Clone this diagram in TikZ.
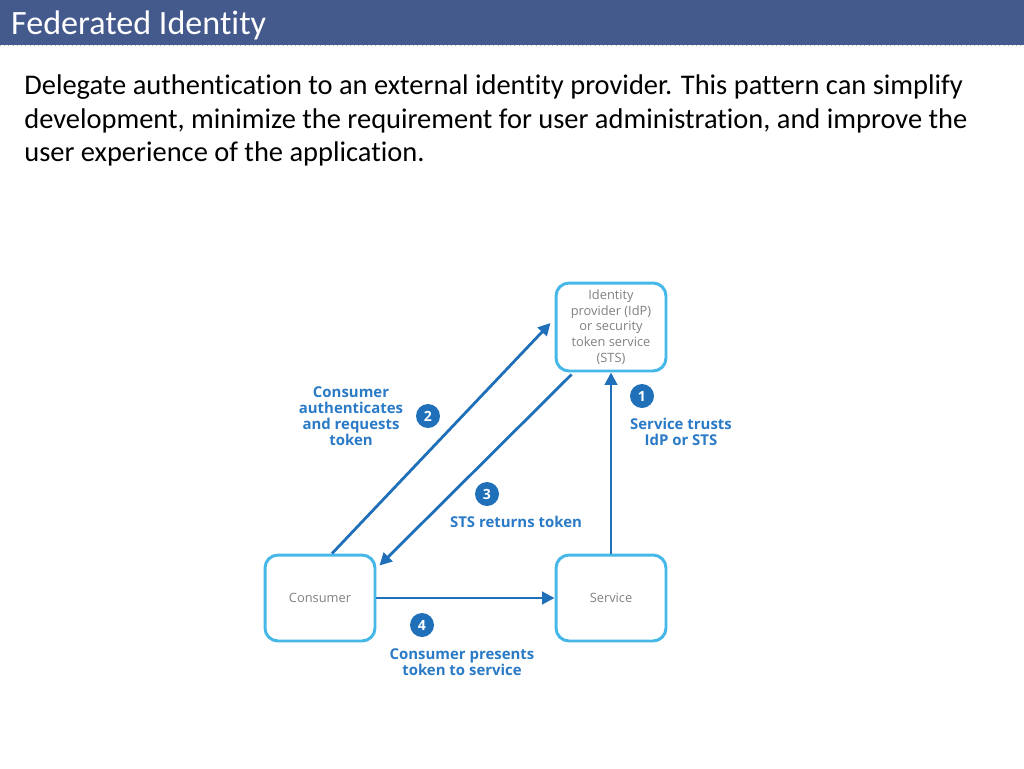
\documentclass[tikz,border=0pt]{standalone}
\usepackage{fontspec}
\setmainfont{Carlito}[Ligatures=NoCommon]
\newfontfamily\diagfont{Open Sans}
\usetikzlibrary{calc,arrows.meta}
\definecolor{headblue}{HTML}{44598C}
\definecolor{boxblue}{HTML}{45B7E8}
\definecolor{arrowblue}{HTML}{1F70B8}
\definecolor{labelblue}{HTML}{2A7AC6}
\definecolor{boxgray}{HTML}{808080}

\begin{document}
\begin{tikzpicture}[x=0.02cm, y=-0.02cm,
    entity/.style={draw=boxblue, line width=1.7pt, rounded corners=0.26cm,
      minimum width=2.2cm, minimum height=1.72cm, align=center, text=boxgray,
      font=\diagfont\fontsize{7.3}{8.9}\selectfont},
    flow/.style={draw=arrowblue, line width=1.6pt, -{Triangle[length=7pt,width=7pt]}},
    stepnum/.style={circle, fill=arrowblue, text=white, minimum size=0.48cm,
      inner sep=0pt, font=\diagfont\bfseries\fontsize{8}{8}\selectfont},
    steptext/.style={align=center, text=labelblue,
      font=\diagfont\bfseries\fontsize{8.5}{9}\selectfont}]

    \useasboundingbox (0,0) rectangle (1024,768);
    \fill[headblue] (0,0) rectangle (1024,45);
    \draw[gray!60, dotted] (0,45) -- (1024,45);
    \node[anchor=west, text=white, font=\fontsize{19.4}{22}\selectfont] (title) at (5,25) {Federated Identity};
    \node[anchor=north west, align=left, inner sep=0pt, font=\fontsize{16.2}{19.3}\selectfont] (intro) at (24,74)
    {Delegate authentication to an external identity provider. This pattern can simplify\\
     development, minimize the requirement for user administration, and improve the\\
     user experience of the application.};

    \node[entity, minimum height=1.76cm] (idp) at (611,327) {Identity\\provider (IdP)\\or security\\token service\\(STS)};
    \node[entity] (consumer) at (320,598) {Consumer};
    \node[entity] (service) at (611,598) {Service};

    \draw[flow] (service) -- (idp);
    \draw[flow] ($(consumer.north)+(12,0)$) -- ($(idp.west)+(-4,-4)$);
    \draw[flow] ($(idp.south west)+(17,2)$) -- ($(consumer.north east)+(3,12)$);
    \draw[flow] (consumer) -- (service);

    \node[stepnum] (n1) at (642,396) {1};
    \node[steptext] (t1) at (681,432) {Service trusts\\IdP or STS};
    \node[stepnum] (n2) at (428,416) {2};
    \node[steptext] (t2) at (351,416) {Consumer\\authenticates\\and requests\\token};
    \node[stepnum] (n3) at (487,494) {3};
    \node[steptext] (t3) at (516,522) {STS returns token};
    \node[stepnum] (n4) at (422,625) {4};
    \node[steptext] (t4) at (462,662) {Consumer presents\\token to service};
\end{tikzpicture}
\end{document}
